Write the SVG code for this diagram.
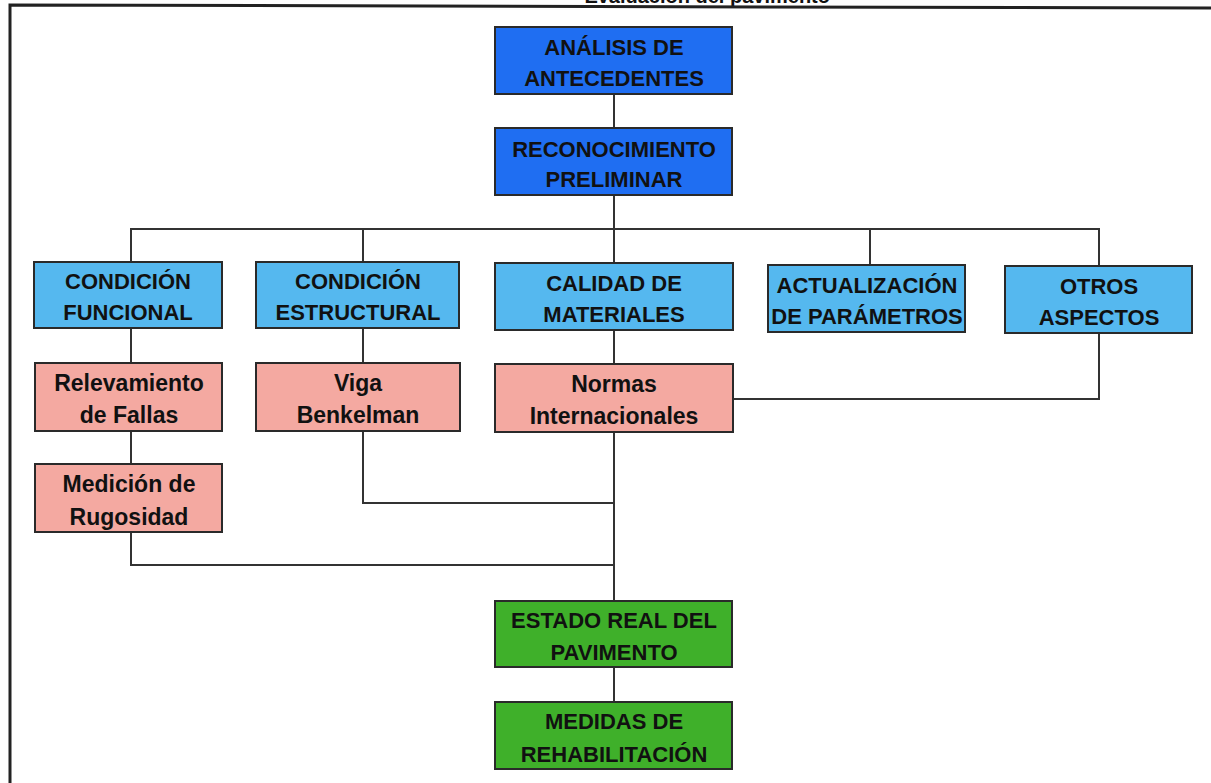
<svg xmlns="http://www.w3.org/2000/svg" width="1211" height="783" viewBox="0 0 1211 783">
<style>
.box{stroke:#2a2a2a;stroke-width:2}
.db{fill:#1f6ef2}
.lb{fill:#55b8ef}
.pk{fill:#f4a9a1}
.gr{fill:#3fb02a}
text{font-family:"Liberation Sans",Arial,sans-serif;font-weight:bold;font-size:22px;fill:#111;text-anchor:middle}
.pt{font-size:23px}
.c{fill:none;stroke:#333;stroke-width:2}
</style>
<rect width="1211" height="783" fill="#ffffff"/>
<g id="frame">
<text x="830" y="3" style="text-anchor:end;font-size:20px">Evaluación del pavimento</text>
<path d="M10,783 L10,5 L1211,8" fill="none" stroke="#222" stroke-width="3"/>
</g>
<g id="connectors" class="c">
<path class="c" d="M614,94 V128"/>
<path class="c" d="M614,195 V229"/>
<path class="c" d="M131,262 V229 H1099 V266"/>
<path class="c" d="M363,229 V262"/>
<path class="c" d="M614,229 V263"/>
<path class="c" d="M870,229 V265"/>
<path class="c" d="M131,328 V363"/>
<path class="c" d="M363,328 V363"/>
<path class="c" d="M614,330 V364"/>
<path class="c" d="M1099,333 V399 H733"/>
<path class="c" d="M131,431 V464"/>
<path class="c" d="M363,431 V503 H614"/>
<path class="c" d="M614,432 V601"/>
<path class="c" d="M131,532 V565 H614"/>
<path class="c" d="M614,667 V702"/>
</g>
<g id="n1"><rect class="box db" x="495" y="27" width="237" height="67"/><text x="614" y="55">ANÁLISIS DE</text><text x="614" y="86">ANTECEDENTES</text></g>
<g id="n2"><rect class="box db" x="495" y="128" width="237" height="67"/><text x="614" y="157">RECONOCIMIENTO</text><text x="614" y="187">PRELIMINAR</text></g>
<g id="n3"><rect class="box lb" x="34" y="262" width="188" height="66"/><text x="128" y="289">CONDICIÓN</text><text x="128" y="320">FUNCIONAL</text></g>
<g id="n4"><rect class="box lb" x="256" y="262" width="203" height="66"/><text x="358" y="289">CONDICIÓN</text><text x="358" y="320">ESTRUCTURAL</text></g>
<g id="n5"><rect class="box lb" x="495" y="263" width="238" height="67"/><text x="614" y="291">CALIDAD DE</text><text x="614" y="322">MATERIALES</text></g>
<g id="n6"><rect class="box lb" x="768" y="265" width="197" height="67"/><text x="867" y="293">ACTUALIZACIÓN</text><text x="867" y="324">DE PARÁMETROS</text></g>
<g id="n7"><rect class="box lb" x="1005" y="266" width="187" height="67"/><text x="1099" y="294">OTROS</text><text x="1099" y="325">ASPECTOS</text></g>
<g id="n8"><rect class="box pk" x="35" y="363" width="187" height="68"/><text class="pt" x="129" y="391">Relevamiento</text><text class="pt" x="129" y="423">de Fallas</text></g>
<g id="n9"><rect class="box pk" x="256" y="363" width="204" height="68"/><text class="pt" x="358" y="391">Viga</text><text class="pt" x="358" y="423">Benkelman</text></g>
<g id="n10"><rect class="box pk" x="495" y="364" width="238" height="68"/><text class="pt" x="614" y="392">Normas</text><text class="pt" x="614" y="424">Internacionales</text></g>
<g id="n11"><rect class="box pk" x="35" y="464" width="187" height="68"/><text class="pt" x="129" y="492">Medición de</text><text class="pt" x="129" y="525">Rugosidad</text></g>
<g id="n12"><rect class="box gr" x="495" y="601" width="237" height="66"/><text x="614" y="628">ESTADO REAL DEL</text><text x="614" y="660">PAVIMENTO</text></g>
<g id="n13"><rect class="box gr" x="495" y="702" width="237" height="67"/><text x="614" y="729">MEDIDAS DE</text><text x="614" y="762">REHABILITACIÓN</text></g>
</svg>
